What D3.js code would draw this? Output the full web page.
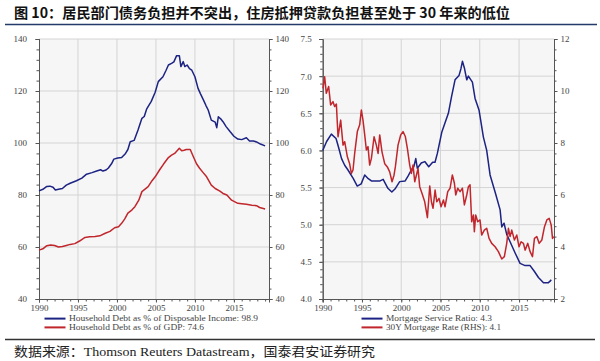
<!DOCTYPE html>
<html>
<head>
<meta charset="utf-8">
<script src="https://cdn.jsdelivr.net/npm/d3@7"></script>
<style>
  body { margin: 0; background: #fff; }
  svg { display: block; }
</style>
</head>
<body>
<svg width="600" height="361"></svg>
<script>
//Left chart: household debt, [year, %]
const debtToIncome = [
  [1990.0, 81.6], [1990.5, 82.2], [1991.0, 83.3], [1991.4, 83.4], [1991.8, 83.0], [1992.1, 81.9],
  [1992.5, 82.2], [1993.0, 82.5], [1993.5, 83.8], [1994.0, 84.5], [1994.8, 85.5], [1995.5, 86.5],
  [1996.1, 88.0], [1996.8, 88.6], [1997.4, 89.2], [1997.9, 89.7], [1998.2, 89.2], [1998.6, 89.6],
  [1998.9, 90.4], [1999.3, 92.0], [1999.6, 93.8], [2000.1, 94.2], [2000.6, 94.4], [2001.1, 96.0],
  [2001.4, 97.5], [2001.7, 100.5], [2002.2, 101.0], [2002.7, 105.0], [2003.2, 109.5], [2003.5, 110.2],
  [2003.8, 113.0], [2004.4, 116.0], [2004.9, 119.5], [2005.3, 123.6], [2005.9, 125.5], [2006.3, 128.0],
  [2006.6, 130.0], [2007.0, 130.6], [2007.3, 131.2], [2007.65, 133.6], [2008.0, 133.6], [2008.2, 129.4],
  [2008.5, 131.3], [2008.7, 129.4], [2009.0, 130.0], [2009.3, 128.6], [2009.6, 128.0], [2010.0, 125.5],
  [2010.4, 121.0], [2010.7, 119.0], [2011.1, 116.5], [2011.4, 114.5], [2011.7, 112.7], [2012.1, 108.8],
  [2012.6, 108.0], [2012.8, 105.9], [2013.0, 110.1], [2013.3, 109.3], [2013.6, 108.2], [2014.0, 106.3],
  [2014.5, 104.4], [2015.0, 102.6], [2015.5, 101.5], [2016.0, 101.3], [2016.6, 102.0], [2017.0, 100.8],
  [2017.5, 100.8], [2017.9, 100.4], [2018.4, 99.6], [2019.0, 98.9]
];
const debtToGDP = [
  [1990.0, 58.8], [1990.5, 59.3], [1991.0, 60.5], [1991.5, 60.8], [1992.0, 60.6], [1992.5, 60.0],
  [1993.0, 60.2], [1993.5, 60.6], [1994.0, 61.0], [1994.6, 61.3], [1995.2, 62.3], [1995.9, 63.7],
  [1996.5, 63.9], [1997.2, 64.0], [1997.8, 64.3], [1998.5, 65.3], [1999.1, 66.0], [1999.7, 67.4],
  [2000.2, 67.8], [2000.6, 69.1], [2001.0, 70.8], [2001.4, 73.0], [2001.9, 74.2], [2002.3, 75.5],
  [2002.8, 78.0], [2003.2, 81.3], [2004.0, 83.2], [2004.5, 85.5], [2004.9, 87.0], [2005.5, 89.8],
  [2006.0, 92.0], [2006.6, 94.4], [2007.0, 95.3], [2007.4, 96.0], [2008.0, 98.0], [2008.3, 97.0],
  [2008.6, 97.2], [2008.9, 97.5], [2009.4, 97.5], [2009.8, 94.7], [2010.2, 92.0], [2010.6, 90.3],
  [2011.0, 88.8], [2011.5, 87.0], [2012.1, 83.8], [2012.6, 82.5], [2013.2, 81.5], [2013.6, 80.6],
  [2014.1, 80.0], [2014.7, 78.0], [2015.5, 76.8], [2016.0, 76.6], [2016.6, 76.4], [2017.3, 76.1],
  [2017.9, 75.9], [2018.3, 75.2], [2019.0, 74.6]
];

//Right chart: mortgage service ratio (LHS) and 30Y mortgage rate (RHS)
const serviceRatio = [
  [1990.0, 6.0], [1990.5, 6.12], [1991.1, 6.22], [1991.7, 6.16], [1992.0, 6.05], [1992.4, 5.89],
  [1992.8, 5.80], [1993.2, 5.74], [1993.9, 5.62], [1994.4, 5.52], [1994.9, 5.55], [1995.35, 5.67],
  [1995.8, 5.62], [1996.2, 5.59], [1996.8, 5.59], [1997.3, 5.59], [1997.7, 5.61], [1998.0, 5.55],
  [1998.3, 5.49], [1998.8, 5.44], [1999.2, 5.48], [1999.8, 5.58], [2000.5, 5.59], [2000.9, 5.66],
  [2001.3, 5.74], [2001.6, 5.78], [2001.85, 5.89], [2002.05, 5.76], [2002.55, 5.83], [2003.0, 5.85],
  [2003.5, 5.78], [2004.0, 5.84], [2004.3, 5.84], [2004.6, 5.96], [2005.15, 6.24], [2005.6, 6.38],
  [2006.0, 6.5], [2006.4, 6.72], [2006.85, 6.95], [2007.36, 7.01], [2007.6, 7.1], [2007.79, 7.2],
  [2008.04, 7.11], [2008.34, 6.95], [2008.55, 7.0], [2009.06, 6.92], [2009.4, 6.7], [2009.91, 6.54],
  [2010.46, 6.18], [2010.88, 6.0], [2011.31, 5.67], [2011.95, 5.44], [2012.59, 5.2], [2012.8, 4.97],
  [2013.09, 5.02], [2013.43, 4.87], [2013.86, 4.77], [2014.5, 4.62], [2015.13, 4.48], [2015.77, 4.45],
  [2016.41, 4.45], [2016.96, 4.37], [2017.47, 4.29], [2018.11, 4.22], [2018.74, 4.22], [2018.95, 4.24],
  [2019.1, 4.26]
];
const mortgageRate = [
  [1990.04, 10.1], [1990.25, 10.55], [1990.46, 9.91], [1990.76, 10.17], [1991.01, 9.46], [1991.31, 9.59],
  [1991.52, 9.4], [1991.74, 9.5], [1991.95, 8.24], [1992.29, 8.88], [1992.59, 7.92], [1992.8, 8.05],
  [1993.14, 7.47], [1993.43, 7.2], [1993.65, 6.83], [1993.86, 6.96], [1994.07, 7.6], [1994.41, 8.44],
  [1994.71, 8.7], [1994.92, 9.27], [1995.13, 8.88], [1995.35, 8.31], [1995.56, 7.73], [1995.77, 7.86],
  [1995.98, 7.15], [1996.2, 7.41], [1996.54, 8.24], [1996.83, 7.92], [1997.05, 7.6], [1997.26, 8.31],
  [1997.55, 7.66], [1997.9, 7.2], [1998.23, 7.08], [1998.53, 6.89], [1998.83, 6.51], [1999.08, 6.76],
  [1999.25, 7.08], [1999.59, 7.92], [1999.93, 8.31], [2000.23, 8.44], [2000.53, 8.24], [2000.78, 7.79],
  [2001.08, 7.15], [2001.29, 6.83], [2001.5, 7.15], [2001.72, 6.51], [2001.93, 6.76], [2002.14, 7.02],
  [2002.35, 6.32], [2002.65, 6.06], [2002.99, 5.74], [2003.33, 5.13], [2003.63, 6.35], [2003.84, 5.74],
  [2004.05, 5.49], [2004.31, 6.19], [2004.52, 5.74], [2004.81, 5.87], [2005.07, 5.55], [2005.37, 5.81],
  [2005.58, 5.55], [2005.92, 6.13], [2006.22, 6.26], [2006.51, 6.77], [2006.77, 6.45], [2006.94, 6.0],
  [2007.19, 6.26], [2007.49, 6.13], [2007.79, 6.26], [2008.04, 5.62], [2008.34, 6.0], [2008.55, 6.32],
  [2008.76, 6.39], [2008.97, 4.97], [2009.19, 5.23], [2009.31, 4.59], [2009.48, 5.23], [2009.74, 4.97],
  [2010.03, 5.04], [2010.24, 4.46], [2010.58, 4.65], [2010.88, 4.72], [2011.18, 4.33], [2011.52, 4.14],
  [2011.95, 4.01], [2012.37, 3.82], [2012.8, 3.54], [2013.13, 3.63], [2013.43, 4.14], [2013.65, 4.72],
  [2013.86, 4.4], [2014.07, 4.65], [2014.41, 4.27], [2014.71, 4.46], [2015.0, 4.01], [2015.26, 4.2],
  [2015.56, 4.14], [2015.77, 3.88], [2016.11, 4.14], [2016.41, 3.82], [2016.71, 3.63], [2016.96, 4.33],
  [2017.26, 4.4], [2017.56, 4.14], [2017.9, 4.27], [2018.24, 4.78], [2018.54, 5.04], [2018.84, 5.1],
  [2019.09, 4.85], [2019.26, 4.33], [2019.43, 4.4]
];

const yearTicks = [1990, 1995, 2000, 2005, 2010, 2015];
const leftTicks = [40, 60, 80, 100, 120, 140];
const ratioTicks = [4.0, 4.5, 5.0, 5.5, 6.0, 6.5, 7.0, 7.5];
const rateTicks = [2, 4, 6, 8, 10, 12];

const leftLegend = ["Household Debt as % of Disposable Income: 98.9", "Household Debt as % of GDP: 74.6"];
const rightLegend = ["Mortgage Service Ratio: 4.3", "30Y Mortgage Rate (RHS): 4.1"];

const title = "图 10：居民部门债务负担并不突出，住房抵押贷款负担甚至处于 30 年来的低位";
const source = "数据来源：Thomson Reuters Datastream，国泰君安证券研究";

const BLUE = "#1c2383";
const RED = "#c0262c";
const SERIF = "'Liberation Serif', 'Times New Roman', serif";

const svg = d3.select("svg");

// Title and rules
svg.append("text")
  .attr("x", 14).attr("y", 17.5)
  .attr("font-family", "'Noto Sans CJK SC', sans-serif")
  .attr("font-weight", "bold")
  .attr("font-size", "14px")
  .attr("fill", "#111")
  .attr("textLength", 496)
  .attr("lengthAdjust", "spacingAndGlyphs")
  .text(title);
svg.append("line")
  .attr("x1", 5).attr("x2", 597).attr("y1", 24.5).attr("y2", 24.5)
  .attr("stroke", "#243a6b").attr("stroke-width", 1.5);

// Builds one panel: background, grid, axes, lines
function drawPanel(p) {
  const g = svg.append("g");
  const [x0, x1] = p.x.range();
  const [yb, yt] = p.yL.range();

  g.append("rect")
    .attr("x", x0).attr("y", yt).attr("width", x1 - x0).attr("height", yb - yt)
    .attr("fill", "#f6f6f6");

  g.selectAll("line.vgrid").data(yearTicks.slice(1)).enter().append("line")
    .attr("x1", d => p.x(d)).attr("x2", d => p.x(d))
    .attr("y1", yt).attr("y2", yb)
    .attr("stroke", "#d4d4d4").attr("stroke-width", 1);
  g.selectAll("line.hgrid").data(p.ticksL.slice(1)).enter().append("line")
    .attr("x1", x0).attr("x2", x1)
    .attr("y1", d => p.yL(d)).attr("y2", d => p.yL(d))
    .attr("stroke", "#d4d4d4").attr("stroke-width", 1);

  const styleAxis = sel => {
    sel.select(".domain").attr("stroke", "#555");
    sel.selectAll(".tick line").attr("stroke", "#555");
    sel.selectAll("text").attr("font-family", SERIF).attr("font-size", "9px").attr("fill", "#444");
  };

  // minor ticks
  g.append("g").attr("transform", `translate(0,${yb})`)
    .call(d3.axisBottom(p.x).tickValues(d3.range(1990, 2020)).tickSize(2.5).tickFormat(""))
    .call(styleAxis);
  g.append("g").attr("transform", `translate(${x0},0)`)
    .call(d3.axisLeft(p.yL).tickValues(p.minorL).tickSize(2.5).tickFormat(""))
    .call(styleAxis);
  g.append("g").attr("transform", `translate(${x1},0)`)
    .call(d3.axisRight(p.yR).tickValues(p.minorR).tickSize(2.5).tickFormat(""))
    .call(styleAxis);

  // major ticks with labels
  g.append("g").attr("transform", `translate(0,${yb})`)
    .call(d3.axisBottom(p.x).tickValues(yearTicks).tickSize(3.5).tickPadding(2).tickFormat(d3.format("d")))
    .call(styleAxis);
  g.append("g").attr("transform", `translate(${x0},0)`)
    .call(d3.axisLeft(p.yL).tickValues(p.ticksL).tickSize(3.5).tickPadding(p.padL).tickFormat(p.fmtL))
    .call(styleAxis);
  g.append("g").attr("transform", `translate(${x1},0)`)
    .call(d3.axisRight(p.yR).tickValues(p.ticksR).tickSize(3.5).tickPadding(p.padR).tickFormat(p.fmtR))
    .call(styleAxis);

  p.series.forEach(s => {
    const line = d3.line().x(d => p.x(d[0])).y(d => s.y(d[1]));
    g.append("path")
      .datum(s.data)
      .attr("fill", "none")
      .attr("stroke", s.color)
      .attr("stroke-width", 1.5)
      .attr("stroke-linejoin", "round")
      .attr("d", line);
  });

  // legend (text is wide and short in the original, so stretch it)
  p.legend.forEach((label, i) => {
    const ly = 318.6 + i * 8.8;
    g.append("line")
      .attr("x1", p.legendX).attr("x2", p.legendX + 21)
      .attr("y1", ly).attr("y2", ly)
      .attr("stroke", p.series[i].color).attr("stroke-width", 2);
    g.append("text")
      .attr("x", p.legendX + 24.5).attr("y", ly)
      .attr("dy", "0.33em")
      .attr("font-family", SERIF).attr("font-size", "7.5px").attr("fill", "#444")
      .attr("textLength", p.legendW[i])
      .attr("lengthAdjust", "spacingAndGlyphs")
      .text(label);
  });
}

// Left panel
const xL = d3.scaleLinear().domain([1990, 2019.5]).range([39, 269]);
const yLeft = d3.scaleLinear().domain([40, 140]).range([299, 39]);
drawPanel({
  x: xL, yL: yLeft, yR: yLeft,
  ticksL: leftTicks, ticksR: leftTicks,
  minorL: d3.range(40, 141, 4), minorR: d3.range(40, 141, 4),
  fmtL: d3.format("d"), fmtR: d3.format("d"),
  padL: 8.5, padR: 3,
  legendX: 44.5,
  legend: leftLegend,
  legendW: [189, 135],
  series: [
    { data: debtToIncome, y: yLeft, color: BLUE },
    { data: debtToGDP, y: yLeft, color: RED }
  ]
});

// Right panel
const xR = d3.scaleLinear().domain([1990, 2019.45]).range([322.7, 554]);
const yRatio = d3.scaleLinear().domain([4, 7.5]).range([299, 39]);
const yRate = d3.scaleLinear().domain([2, 12]).range([299, 39]);
drawPanel({
  x: xR, yL: yRatio, yR: yRate,
  ticksL: ratioTicks, ticksR: rateTicks,
  minorL: d3.range(40, 76, 1).map(d => d / 10), minorR: d3.range(5, 31, 1).map(d => d * 0.4),
  fmtL: d3.format(".1f"), fmtR: d3.format("d"),
  padL: 7.5, padR: 3,
  legendX: 361.5,
  legend: rightLegend,
  legendW: [106, 115],
  series: [
    { data: serviceRatio, y: yRatio, color: BLUE },
    { data: mortgageRate, y: yRate, color: RED }
  ]
});

// faint source line of the original chart, mostly hidden under the rule
svg.append("clipPath").attr("id", "fade")
  .append("rect").attr("x", 0).attr("y", 333).attr("width", 600).attr("height", 6);
svg.append("text")
  .attr("x", 426).attr("y", 346)
  .attr("clip-path", "url(#fade)")
  .attr("font-family", SERIF).attr("font-size", "9.5px").attr("fill", "#c8c8c8")
  .text("Source: Thomson Reuters Datastream");

svg.append("line")
  .attr("x1", 5).attr("x2", 595).attr("y1", 339.5).attr("y2", 339.5)
  .attr("stroke", "#333").attr("stroke-width", 1.5);

svg.append("text")
  .attr("x", 14).attr("y", 356)
  .attr("font-family", "'Liberation Serif', 'Noto Sans CJK SC', serif")
  .attr("font-size", "13px")
  .attr("fill", "#222")
  .attr("textLength", 361)
  .attr("lengthAdjust", "spacingAndGlyphs")
  .text(source);
</script>
</body>
</html>
